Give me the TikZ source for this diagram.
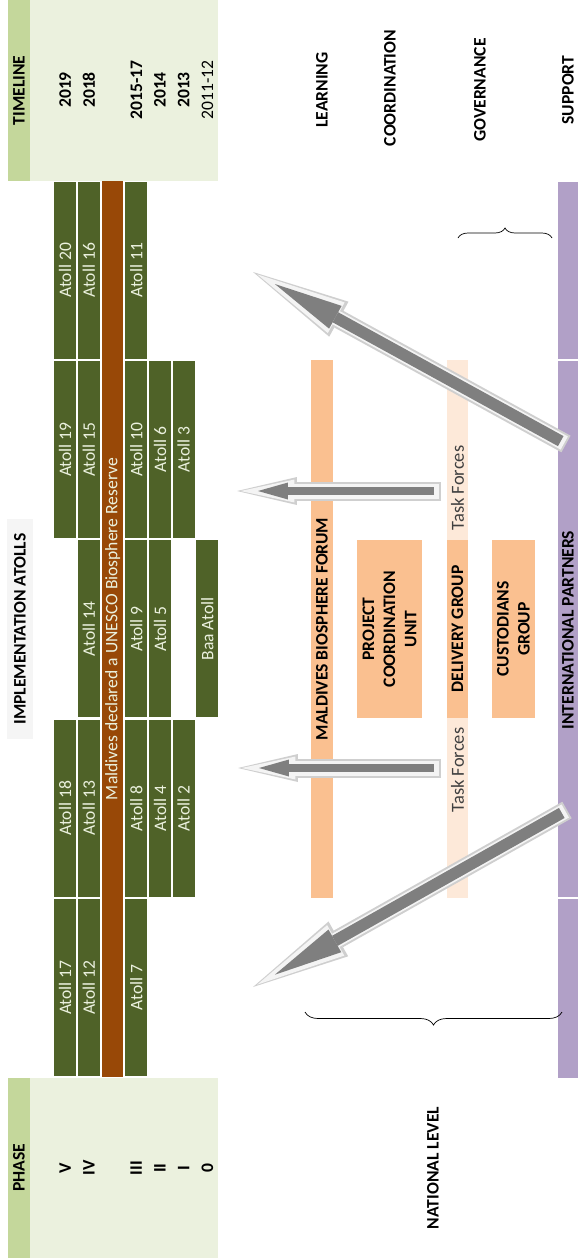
\documentclass[tikz,border=0pt]{standalone}
\usepackage{fontspec}
\setmainfont{Carlito}
\usetikzlibrary{arrows.meta}
\usetikzlibrary{decorations.pathreplacing}
\usetikzlibrary{positioning}
\definecolor{atollgreen}{HTML}{4F6228}
\definecolor{palegreen}{HTML}{EBF1DE}
\definecolor{midgreen}{HTML}{C4D79B}
\definecolor{rust}{HTML}{984807}
\definecolor{peach}{HTML}{FAC090}
\definecolor{palepeach}{HTML}{FDE9D9}
\definecolor{lilac}{HTML}{B1A0C7}
\definecolor{arrowcore}{HTML}{7F7F7F}
\definecolor{arrowedge}{HTML}{CFCFCF}
\definecolor{arrowfill}{HTML}{F4F4F4}
\tikzset{
  lbl/.style={rotate=90, inner sep=0pt, font=\fontsize{10}{12}\selectfont},
  head/.style={lbl, font=\fontsize{10}{12}\selectfont\bfseries},
  atollbox/.style={lbl, fill=atollgreen, text=palegreen, minimum width=3.54cm, minimum height=0.44cm},
  groupbox/.style={head, fill=peach, align=center, minimum width=3.56cm},
  % big grey arrows, drawn in three passes
  hedge/.style={draw=arrowedge, line width=0.38cm, -{Triangle[length=1.2cm, width=0.56cm, line width=0pt]}},
  hfill/.style={draw=arrowfill, line width=0.3cm, shorten <=0.04cm, shorten >=0.07cm, -{Triangle[length=1.08cm, width=0.46cm, line width=0pt]}},
  hcore/.style={draw=arrowcore, line width=0.15cm, shorten <=0.14cm, shorten >=0.42cm, -{Triangle[length=0.6cm, width=0.34cm, line width=0pt]}},
  dedge/.style={draw=arrowedge, line width=0.38cm, -{Triangle[length=1.96cm, width=0.8cm, line width=0pt]}},
  dfill/.style={draw=arrowfill, line width=0.3cm, shorten <=0.04cm, shorten >=0.1cm, -{Triangle[length=1.8cm, width=0.7cm, line width=0pt]}},
  dcore/.style={draw=arrowcore, line width=0.23cm, shorten <=0.12cm, shorten >=0.5cm, -{Triangle[length=1.38cm, width=0.52cm, line width=0pt]}},
  bracket/.style={decorate, decoration={brace, amplitude=#1}, thin},
}

\begin{document}
\begin{tikzpicture}[x=0.02cm, y=-0.02cm]
\useasboundingbox (0,0) rectangle (578,1258);

% Timeline block
\fill[palegreen] (30,0) rectangle (218,181);
\node[head, fill=midgreen, minimum width=3.62cm, minimum height=0.44cm] (timeline) at (19,90.5) {TIMELINE};
\foreach \c/\yr in {1/2019, 2/2018, 4/2015-17, 5/2014, 6/2013}
  \node[head] (year\c) at ({41.5+23.7*\c},90) {\yr};
\node[lbl] (year7) at ({41.5+23.7*7},90) {2011-12};

% Phase block
\fill[palegreen] (30,1078) rectangle (218,1258);
\node[head, fill=midgreen, minimum width=3.6cm, minimum height=0.44cm] (phase) at (19,1168) {PHASE};
\foreach \c/\ph in {1/V, 2/IV, 4/III, 5/II, 6/I, 7/0}
  \node[head] (phase\c) at ({41.5+23.7*\c},1168) {\ph};

% Implementation atolls
\node[head, fill=black!4, minimum width=4.4cm, minimum height=0.52cm] (impl) at (20,629) {IMPLEMENTATION ATOLLS};
\foreach \c/\r/\lab in {1/1/Atoll 20, 1/2/Atoll 19, 1/4/Atoll 18, 1/5/Atoll 17,
    2/1/Atoll 16, 2/2/Atoll 15, 2/3/Atoll 14, 2/4/Atoll 13, 2/5/Atoll 12,
    4/1/Atoll 11, 4/2/Atoll 10, 4/3/Atoll 9, 4/4/Atoll 8, 4/5/Atoll 7,
    5/2/Atoll 6, 5/3/Atoll 5, 5/4/Atoll 4, 6/2/Atoll 3, 6/4/Atoll 2, 7/3/Baa Atoll}
  \node[atollbox] (atoll\c\r) at ({41.5+23.7*\c},{91+179.3*\r}) {\lab};
\node[lbl, fill=rust, text=palegreen, minimum width=17.92cm, minimum height=0.42cm] (declared) at (112.6,629) {Maldives declared a UNESCO Biosphere Reserve};

% Levels
\node[head] (learning) at (322,90) {LEARNING};
\node[head] (coordination) at (390,88) {COORDINATION};
\node[head] (governance) at (480,90) {GOVERNANCE};
\node[head] (support) at (568,90) {SUPPORT};

% National level structures
\node[head, fill=peach, minimum width=10.76cm, minimum height=0.44cm] (forum) at (322,629) {MALDIVES BIOSPHERE FORUM};
\node[groupbox, minimum height=1.3cm] (pcu) at (389.5,629) {PROJECT\\COORDINATION\\UNIT};
\node[lbl, fill=palepeach, minimum width=10.76cm, minimum height=0.42cm] (taskbar) at (457.5,629) {};
\node[groupbox, minimum height=0.42cm] (delivery) at (457.5,629) {DELIVERY GROUP};
\node[lbl, text=black!75, font=\fontsize{10.5}{12}\selectfont] (taskup) at (457.5,488) {Task Forces};
\node[lbl, text=black!75, font=\fontsize{10.5}{12}\selectfont] (tasklow) at (457.5,770) {Task Forces};
\node[groupbox, minimum height=0.86cm] (custodians) at (513.5,629) {CUSTODIANS\\GROUP};

% Support
\node[head, fill=lilac, minimum width=17.92cm, minimum height=0.42cm] (partners) at (568,630) {INTERNATIONAL PARTNERS};
\draw[white, thick] (558,360) -- (579,360) (558,898) -- (579,898);

\node[head] (national) at (433,1168) {NATIONAL LEVEL};
\draw[bracket=0.2cm] (458,238) -- (552,238);
\draw[bracket=0.26cm] (562,1012) -- (305,1012);

% Arrows
\coordinate (hA1) at (441,491);
\coordinate (hA2) at (237,491);
\coordinate (hB1) at (441,768);
\coordinate (hB2) at (238,768);
\coordinate (dA1) at (566,444);
\coordinate (dA2) at (253,272);
\coordinate (dB1) at (567,810);
\coordinate (dB2) at (253,987);
\foreach \a in {A,B} {
  \draw[hedge] (h\a1) -- (h\a2);
  \draw[hfill] (h\a1) -- (h\a2);
  \draw[hcore] (h\a1) -- (h\a2);
  \draw[dedge] (d\a1) -- (d\a2);
  \draw[dfill] (d\a1) -- (d\a2);
  \draw[dcore] (d\a1) -- (d\a2);
}
\end{tikzpicture}
\end{document}
